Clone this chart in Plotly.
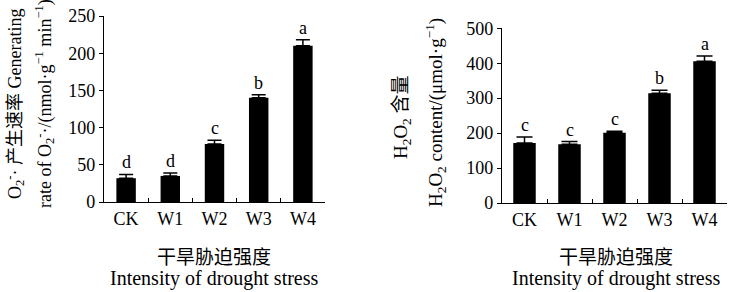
import plotly.graph_objects as go

categories = ["CK", "W1", "W2", "W3", "W4"]

o2_rate = [32, 35, 78, 140, 210]
o2_err = [5, 4, 5, 4, 8]
o2_letters = ["d", "d", "c", "b", "a"]

h2o2 = [172, 168, 201, 314, 406]
h2o2_err = [17, 8, 4, 9, 15]
h2o2_letters = ["c", "c", "c", "b", "a"]

left_ticks = [0, 50, 100, 150, 200, 250]
right_ticks = [0, 100, 200, 300, 400, 500]

FONT = "Liberation Serif, Times New Roman, Noto Sans CJK SC, serif"
CJK = "Noto Sans CJK SC, Liberation Serif, serif"

W, H = 732, 292


def px(x):
    return x / W


def py(y):
    return 1 - y / H


fig = go.Figure()

fig.add_trace(go.Bar(
    x=categories, y=o2_rate, xaxis="x", yaxis="y",
    marker=dict(color="black", line=dict(width=0)),
    error_y=dict(type="data", array=o2_err, arrayminus=[0]*5, symmetric=False,
                 color="black", thickness=1.5, width=7),
    width=0.44, showlegend=False,
))
fig.add_trace(go.Bar(
    x=categories, y=h2o2, xaxis="x2", yaxis="y2",
    marker=dict(color="black", line=dict(width=0)),
    error_y=dict(type="data", array=h2o2_err, arrayminus=[0]*5, symmetric=False,
                 color="black", thickness=1.5, width=8),
    width=0.5, showlegend=False,
))

annotations = []
for c, v, e, l in zip(categories, o2_rate, o2_err, o2_letters):
    annotations.append(dict(x=c, y=v + e, xref="x", yref="y", text=l, showarrow=False,
                            xanchor="center", yanchor="bottom", yshift=0,
                            font=dict(family=FONT, size=18, color="black")))
for c, v, e, l in zip(categories, h2o2, h2o2_err, h2o2_letters):
    annotations.append(dict(x=c, y=v + e, xref="x2", yref="y2", text=l, showarrow=False,
                            xanchor="center", yanchor="bottom", yshift=0,
                            font=dict(family=FONT, size=18, color="black")))

# y-axis titles
ytitles = [
    dict(x=px(14), y=py(104), text="O<sub>2</sub><sup>-</sup>· 产生速率 Generating", size=18),
    dict(x=px(44), y=py(104),
         text="rate of O<sub>2</sub><sup>-</sup>·/(nmol·g<sup>−1</sup> min<sup>−1</sup>)", size=18),
    dict(x=px(402), y=py(117), text="H<sub>2</sub>O<sub>2</sub> 含量", size=19),
    dict(x=px(435), y=py(113), text="H<sub>2</sub>O<sub>2</sub> content/(μmol·g<sup>−1</sup>)", size=19),
]
for a in ytitles:
    s = a.pop("size")
    a.update(xref="paper", yref="paper", textangle=-90, showarrow=False,
             xanchor="center", yanchor="middle", font=dict(family=FONT, size=s, color="black"))
    annotations.append(a)
# x-axis titles
for cx in (214, 616):
    annotations += [
        dict(x=px(cx), y=py(255), xref="paper", yref="paper", showarrow=False,
             xanchor="center", yanchor="middle",
             text="干旱胁迫强度", font=dict(family=CJK, size=19, color="black")),
        dict(x=px(cx), y=py(278), xref="paper", yref="paper", showarrow=False,
             xanchor="center", yanchor="middle",
             text="Intensity of drought stress", font=dict(family=FONT, size=20, color="black")),
    ]

xcommon = dict(type="category", showline=True, linecolor="black", linewidth=1.2,
               ticks="inside", ticklen=4, tickcolor="black", tickwidth=1,
               tickson="boundaries", showgrid=False, zeroline=False, automargin=False,
               ticklabeloverflow="allow",
               tickfont=dict(family=FONT, size=18, color="black"))
ycommon = dict(showline=True, linecolor="black", linewidth=1.2, ticks="outside",
               ticklen=4, tickcolor="black", tickwidth=1, showgrid=False, zeroline=False,
               automargin=False, ticklabeloverflow="allow",
               tickfont=dict(family=FONT, size=18, color="black"))

fig.update_layout(
    template="none",
    width=W, height=H, autosize=False,
    margin=dict(l=0, r=0, t=0, b=0, pad=0),
    paper_bgcolor="white", plot_bgcolor="white",
    xaxis=dict(domain=[px(104), px(325)], anchor="y", **xcommon),
    yaxis=dict(domain=[py(202), py(16)], anchor="x", range=[0, 250],
               tickvals=left_ticks, **ycommon),
    xaxis2=dict(domain=[px(502), px(727)], anchor="y2", **xcommon),
    yaxis2=dict(domain=[py(203), py(28.3)], anchor="x2", range=[0, 500],
                tickvals=right_ticks, **ycommon),
    annotations=annotations,
    bargap=0.5,
)

# remove the browser's default 8px body margin so the figure fills the window
fig.write_html("out.html", config={"displayModeBar": False},
               post_script="document.body.style.margin='0px';")
